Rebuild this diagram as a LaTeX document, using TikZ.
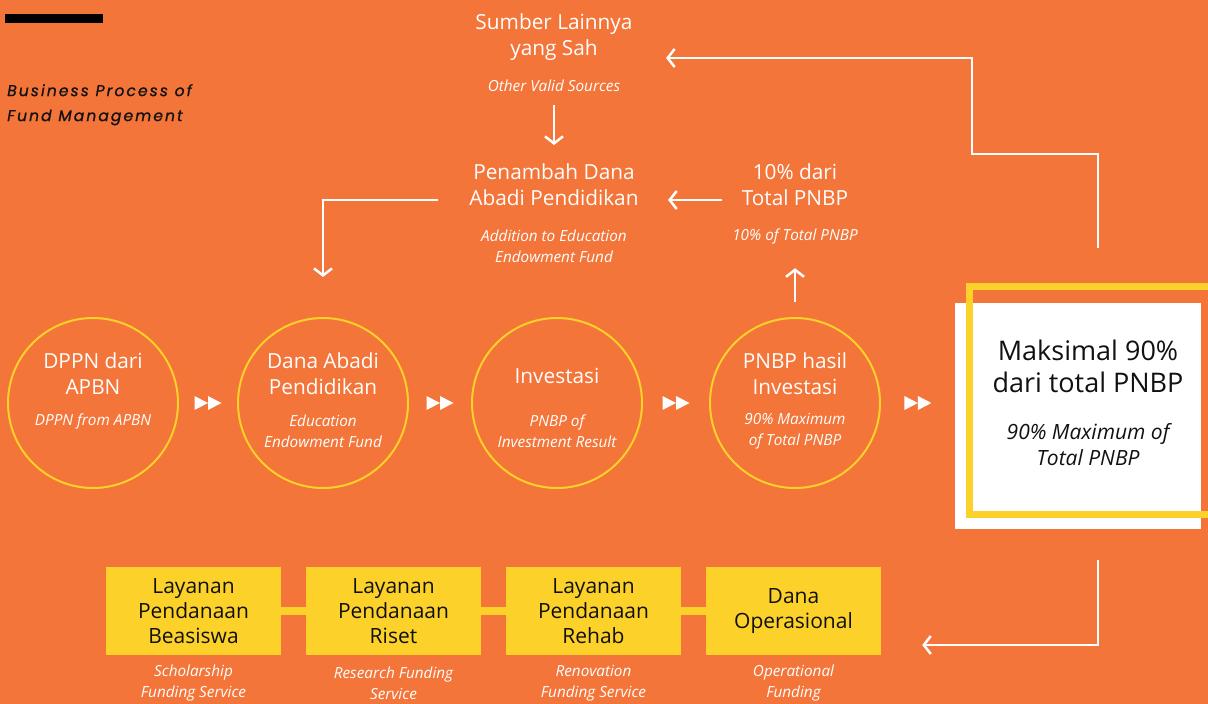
\documentclass[tikz,border=0pt]{standalone}
\usepackage{fontspec}
\setmainfont{Open Sans}
\newfontfamily\titlefont{Poppins}[LetterSpace=13,FakeBold=0.8]
\usetikzlibrary{arrows.meta,calc}
\definecolor{bpOrange}{HTML}{F37539}
\definecolor{bpYellow}{HTML}{FCD12A}
\definecolor{bpInk}{HTML}{111111}

\begin{document}
\begin{tikzpicture}[x=1pt,y=-1pt]
    \tikzset{
        head/.style={text=white,align=center,font=\fontsize{20.8}{26}\selectfont},
        note/.style={text=white,align=center,font=\fontsize{15.3}{21}\selectfont\itshape},
        ring/.style={circle,draw=bpYellow,line width=2pt,minimum size=170pt,inner sep=0pt},
        fund/.style={fill=bpYellow,minimum width=175pt,minimum height=88pt,inner sep=0pt,align=center,text=bpInk,font=\fontsize{21}{25}\selectfont},
        flow/.style={draw=white,line width=2.5pt,-{Straight Barb[length=7pt,width=18pt,line width=2.5pt]}},
        link/.style={draw=bpYellow,line width=8pt},
        ffwd/.pic={
            \fill[white] (-13.5,-7) -- (0,0) -- (-13.5,7) -- cycle;
            \fill[white] (0,-7) -- (13.5,0) -- (0,7) -- cycle;
        }
    }
    \useasboundingbox (0,0) rectangle (1208,704);
    \clip (0,0) rectangle (1208,704);
    \fill[bpOrange] (0,0) rectangle (1208,704);
    \fill[black] (5,14) rectangle (103,23);
    \node[anchor=north west,align=left,inner sep=0pt,text=bpInk,font=\titlefont\fontsize{15.6}{25}\selectfont\itshape] (title) at (7,84) {Business Process of\\Fund Management};

    % sources on top
    \node[head] (sumber) at (554,37) {Sumber Lainnya\\yang Sah};
    \node[note] (sumberSub) at (554,86) {Other Valid Sources};
    \node[head] (penambah) at (554,184.5) {Penambah Dana\\Abadi Pendidikan};
    \node[note] (penambahSub) at (554,246.5) {Addition to Education\\Endowment Fund};
    \node[head] (persen) at (795,184.5) {10\% dari\\Total PNBP};
    \node[note] (persenSub) at (795,236) {10\% of Total PNBP};

    % the four circles
    \foreach \name/\cx in {dppn/93,dana/323,invest/557,hasil/795}
        \node[ring] (\name) at (\cx,403) {};
    \node[head] (dppnT) at (93,374) {DPPN dari\\APBN};
    \node[note] (dppnS) at (93,421) {DPPN from APBN};
    \node[head] (danaT) at (323,374) {Dana Abadi\\Pendidikan};
    \node[note] (danaS) at (323,431.5) {Education\\Endowment Fund};
    \node[head] (investT) at (557,376) {Investasi};
    \node[note] (investS) at (557,431.5) {PNBP of\\Investment Result};
    \node[head] (hasilT) at (795,374) {PNBP hasil\\Investasi};
    \node[note] (hasilS) at (795,431.5) {90\% Maximum\\of Total PNBP};

    % result box
    \node[fill=white,minimum width=246pt,minimum height=226pt,inner sep=0pt] (maks) at (1078,415.5) {};
    \node[draw=bpYellow,line width=7pt,minimum width=257pt,minimum height=227.5pt,inner sep=0pt] (frame) at (1098,400.25) {};
    \node[align=center,text=bpInk,font=\fontsize{27}{32}\selectfont] (maksT) at (1088,366) {Maksimal 90\%\\dari total PNBP};
    \node[align=center,text=bpInk,font=\fontsize{21}{26}\selectfont\itshape] (maksS) at (1088,445) {90\% Maximum of\\Total PNBP};

    \foreach \a/\b in {dppn/dana,dana/invest,invest/hasil,hasil/maks}
        \pic at ($(\a.east)!0.5!(\b.west |- \a.east)$) {ffwd};

    % funding services
    \foreach \name/\cx/\txt/\sub in {beasiswa/193.5/{Layanan\\Pendanaan\\Beasiswa}/{Scholarship\\Funding Service},
        riset/393.5/{Layanan\\Pendanaan\\Riset}/{Research Funding\\Service},
        rehab/593.5/{Layanan\\Pendanaan\\Rehab}/{Renovation\\Funding Service},
        ops/793.5/{Dana\\Operasional}/{Operational\\Funding}}{
        \node[fund] (\name) at (\cx,611) {\txt};
        \node[note] (\name S) at (\cx,683.5) {\sub};
    }
    \draw[link] (beasiswa) -- (riset);
    \draw[link] (riset) -- (rehab);
    \draw[link] (rehab) -- (ops);

    % arrows
    \coordinate (bend) at (972,154);
    \draw[flow,shorten <=10pt,shorten >=15pt] (sumberSub) -- (penambah);
    \draw[flow,shorten <=16pt,shorten >=26pt] ([yshift=-15.5pt]persen.west) -- ([yshift=-15.5pt]penambah.east);
    \draw[flow,shorten <=28pt] ([yshift=-15.5pt]penambah.west) -| ([yshift=40pt]dana.north);
    \draw[flow,shorten <=15pt,shorten >=21pt] (hasil.north) -- (persenSub.south);
    \draw[flow,shorten >=30pt] ([yshift=35pt]frame.north) |- (bend) |- ([yshift=-21pt]sumber.east);
    \draw[flow,shorten >=41pt] ([yshift=-42.5pt]frame.south) |- ([yshift=-34pt]ops.east);
\end{tikzpicture}
\end{document}
